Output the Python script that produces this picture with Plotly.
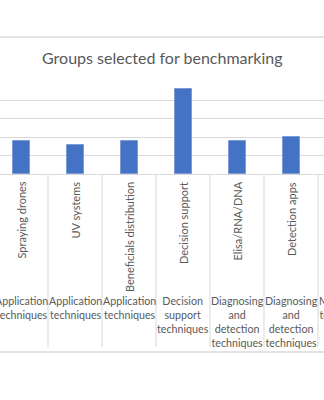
import plotly.graph_objects as go

# Data
categories = ["Spraying drones", "UV systems", "Beneficials distribution",
              "Decision support", "Elisa/RNA/DNA", "Detection apps", ""]
groups = ["Application<br>techniques", "Application<br>techniques", "Application<br>techniques",
          "Decision<br>support<br>techniques", "Diagnosing<br>and<br>detection<br>techniques",
          "Diagnosing<br>and<br>detection<br>techniques", "Monitoring<br>techniques"]
values = [9, 8, 9, 23, 9, 10, None]
y_ticks = [0, 5, 10, 15, 20, 25]

W, H = 324, 400
TOP_PX, ZERO_PX, BOT_PX = 82, 174, 347
YMAX = 25
units_per_px = YMAX / (ZERO_PX - TOP_PX)
YMIN = -(BOT_PX - ZERO_PX) * units_per_px
X0, XMIN = 21 / 54, -21 / 54
XMAX = (W - 21) / 54

def ypx(px):
    return -(px - ZERO_PX) * units_per_px

def xpaper(v):
    return (v - XMIN) / (XMAX - XMIN)

TEXT = "#595959"
GRID = "#D9D9D9"
FONT = "Lato"

xs = list(range(len(categories)))

fig = go.Figure()
fig.add_trace(go.Bar(
    x=xs, y=values, width=0.315,
    marker=dict(color="#4472C4", line=dict(color="#7A9BD8", width=1)),
    showlegend=False, hoverinfo="skip",
))

shapes = []
# category divider lines (tick marks extended for multi-level labels)
for i in range(-1, len(categories)):
    shapes.append(dict(type="line", xref="x", yref="y", x0=i + 0.5, x1=i + 0.5,
                       y0=0, y1=YMIN, line=dict(color=GRID, width=1), layer="below"))
# chart area border
for py in (37, 352):
    yp = (H - (H - BOT_PX) - py) / (BOT_PX - TOP_PX)
    shapes.append(dict(type="line", xref="paper", yref="paper", x0=-0.2, x1=1.2,
                       y0=yp, y1=yp, line=dict(color="#E3E3E3", width=2)))

annotations = []
for i, (c, g) in enumerate(zip(categories, groups)):
    if c:
        annotations.append(dict(x=xpaper(i), y=ypx(180), xref="paper", yref="y", text=c,
                                textangle=-90, xanchor="center", yanchor="top",
                                showarrow=False, font=dict(family=FONT, size=11, color=TEXT)))
    annotations.append(dict(x=xpaper(i), y=ypx(292), xref="paper", yref="y", text=g,
                            xanchor="center", yanchor="top", align="center",
                            showarrow=False, font=dict(family=FONT, size=10.7, color=TEXT)))

annotations.append(dict(x=162 / W, y=(BOT_PX - 57) / (BOT_PX - TOP_PX), xref="paper", yref="paper",
                        text="Groups selected for benchmarking", showarrow=False,
                        xanchor="center", yanchor="middle",
                        font=dict(family=FONT, size=16, color=TEXT)))

fig.update_layout(
    width=W, height=H,
    margin=dict(l=0, r=0, t=TOP_PX, b=H - BOT_PX, pad=0),
    paper_bgcolor="white", plot_bgcolor="white",
    xaxis=dict(range=[XMIN, XMAX], showgrid=False, zeroline=False,
               showticklabels=False, ticks="", showline=False, fixedrange=True),
    yaxis=dict(range=[YMIN, YMAX], tickvals=y_ticks, showgrid=True, gridcolor=GRID,
               gridwidth=1, zeroline=False, showticklabels=False, ticks="", showline=False),
    shapes=shapes, annotations=annotations, bargap=0,
)

fig.write_html("out.html", config={"displayModeBar": False})
